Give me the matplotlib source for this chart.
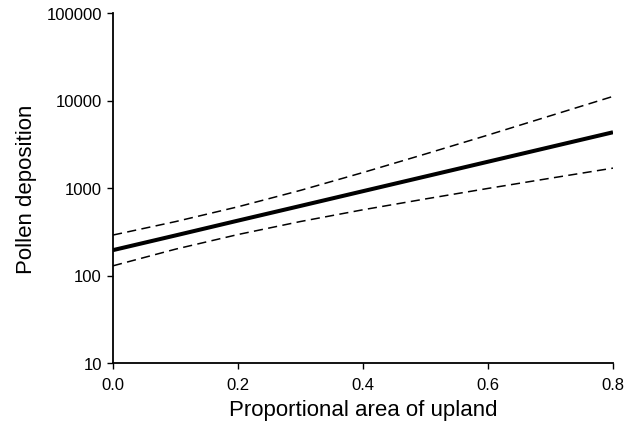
import numpy as np
import matplotlib.pyplot as plt
from matplotlib.ticker import FixedLocator, FuncFormatter, NullLocator

plt.rcParams['font.family'] = ['Liberation Sans', 'DejaVu Sans']

# values (log-scale y)
upland = [0.0, 0.1, 0.2, 0.3, 0.4, 0.5, 0.6, 0.7, 0.8]
fitted = [195, 287, 424, 624, 920, 1355, 1997, 2942, 4335]
upper_ci = [290, 413, 610, 940, 1503, 2449, 4027, 6699, 11140]
lower_ci = [129, 200, 294, 414, 564, 750, 989, 1294, 1687]

y_ticks = [10, 100, 1000, 10000, 100000]
x_ticks = [0.0, 0.2, 0.4, 0.6, 0.8]

fig = plt.figure(figsize=(6.38, 4.35), dpi=100)
ax = fig.add_axes([113 / 638, 71 / 435, 500 / 638, 350 / 435])

ax.plot(upland, fitted, color='black', lw=2.9, solid_capstyle='butt')
ax.plot(upland, upper_ci, color='black', lw=1.1, dashes=(6, 3.5))
ax.plot(upland, lower_ci, color='black', lw=1.1, dashes=(6, 3.5))

ax.set_yscale('log')
ax.set_ylim(10, 100000)
ax.set_xlim(0, 0.8)
ax.yaxis.set_major_locator(FixedLocator(y_ticks))
ax.yaxis.set_minor_locator(NullLocator())
ax.yaxis.set_major_formatter(FuncFormatter(lambda v, p: f"{int(round(v))}"))
ax.set_xticks(x_ticks)
ax.xaxis.set_major_formatter(FuncFormatter(lambda v, p: f"{v:.1f}"))

for side in ['top', 'right']:
    ax.spines[side].set_visible(False)
for side in ['left', 'bottom']:
    ax.spines[side].set_linewidth(1.3)

ax.tick_params(axis='both', direction='out', length=4, width=1, labelsize=12)
ax.tick_params(axis='x', pad=6)
ax.tick_params(axis='y', pad=4)

ax.set_xlabel("Proportional area of upland", fontsize=16, labelpad=5)
ax.set_ylabel("Pollen deposition", fontsize=16, labelpad=7)

plt.savefig("out.png", dpi=100)
